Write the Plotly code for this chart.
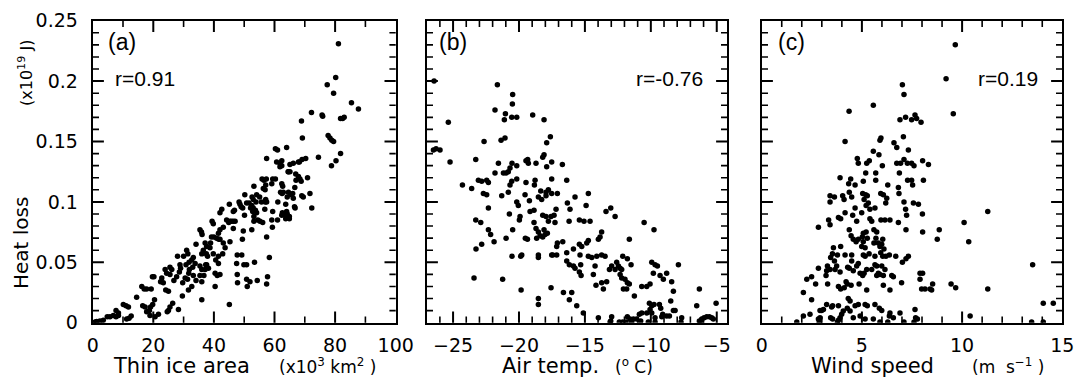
import numpy as np
import plotly.graph_objects as go

# ---------------- Panel (a): heat loss vs thin ice area ----------------
ice_area = [
    81.1, 80.2, 77.4, 79.5, 85.4, 87.7, 72.2, 75.7, 75.9, 81.8,
    82.5, 83.0, 68.9, 69.2, 77.7, 78.3, 78.9, 79.5, 81.8, 80.3,
    78.8, 74.5, 70.3, 64.0, 60.3, 61.0, 57.4, 62.4, 61.8, 65.1,
    66.2, 62.4, 68.2, 69.1, 64.5, 65.1, 67.0, 70.9, 67.1, 68.4,
    68.8, 59.4, 60.3, 55.9, 56.5, 57.3, 53.2, 57.1, 56.3, 62.7,
    66.7, 62.0, 62.5, 62.9, 66.0, 65.5, 71.7, 69.0, 69.5, 50.2,
    52.6, 54.1, 53.0, 53.9, 57.1, 57.4, 52.5, 53.0, 63.7, 66.8,
    72.3, 53.7, 54.1, 56.8, 48.3, 48.6, 50.8, 45.1, 46.8, 49.5,
    59.4, 62.6, 63.5, 64.1, 64.9, 63.7, 61.0, 59.1, 59.3, 54.5,
    56.1, 52.5, 49.7, 57.4, 49.4, 58.3, 47.7, 53.4, 49.9, 50.8,
    47.5, 51.9, 50.8, 51.0, 54.3, 47.7, 47.8, 57.7, 57.4, 45.1,
    42.0, 42.6, 44.2, 44.9, 43.1, 42.0, 45.8, 39.4, 39.8, 41.5,
    39.2, 40.0, 40.9, 41.6, 42.0, 43.1, 43.7, 42.9, 41.5, 39.8,
    38.7, 38.9, 35.4, 35.9, 36.1, 37.1, 37.6, 36.5, 36.0, 34.1,
    37.9, 37.5, 40.6, 41.5, 37.3, 35.4, 36.0, 37.1, 36.7, 42.0,
    40.4, 33.2, 33.8, 33.0, 30.0, 28.0, 25.5, 26.1, 28.8, 29.0,
    28.6, 31.9, 31.7, 31.3, 33.2, 34.1, 35.4, 36.0, 30.5, 29.7,
    27.7, 26.8, 25.5, 23.9, 24.4, 22.8, 23.3, 22.4, 20.2, 19.7,
    19.3, 16.2, 17.0, 17.8, 20.4, 29.6, 31.6, 32.7, 24.1, 25.0,
    19.8, 19.1, 18.7, 17.8, 17.3, 16.5, 14.5, 21.7, 20.6, 18.9,
    26.4, 25.5, 25.0, 24.6, 28.3, 36.0, 10.1, 11.0, 11.8, 7.7,
    8.5, 12.7, 12.0, 11.2, 5.7, 6.8, 7.7, 8.5, 4.8, 3.5,
    2.4, 1.3, 0.8, 0.2, 55.1, 55.7, 56.9, 56.9, 49.0, 51.6,
    52.1, 52.8, 53.2, 46.4, 50.1, 45.3, 46.4, 47.0, 46.4, 45.3,
    55.2, 62.4, 64.2, 64.9, 64.6, 64.2, 66.2, 66.6, 62.4, 64.6,
    67.9, 60.7, 61.8, 67.9, 61.1, 64.0, 64.6, 59.1, 31.0, 31.4,
    30.8, 31.8, 32.7, 37.6, 38.2, 40.4, 41.1, 49.2, 53.2,
]
heat_loss_a = [
    0.231, 0.203, 0.197, 0.190, 0.182, 0.177, 0.174, 0.172, 0.171, 0.169,
    0.169, 0.170, 0.167, 0.153, 0.155, 0.153, 0.151, 0.150, 0.140, 0.134,
    0.130, 0.137, 0.136, 0.145, 0.144, 0.143, 0.136, 0.134, 0.132, 0.131,
    0.132, 0.130, 0.133, 0.135, 0.125, 0.125, 0.123, 0.120, 0.118, 0.119,
    0.117, 0.119, 0.119, 0.119, 0.118, 0.119, 0.113, 0.114, 0.111, 0.113,
    0.112, 0.108, 0.107, 0.108, 0.107, 0.106, 0.107, 0.105, 0.104, 0.106,
    0.104, 0.106, 0.102, 0.100, 0.102, 0.100, 0.097, 0.095, 0.098, 0.095,
    0.095, 0.093, 0.091, 0.094, 0.100, 0.098, 0.099, 0.098, 0.093, 0.095,
    0.092, 0.091, 0.089, 0.088, 0.088, 0.086, 0.085, 0.085, 0.079, 0.085,
    0.083, 0.077, 0.076, 0.071, 0.069, 0.054, 0.056, 0.050, 0.048, 0.048,
    0.049, 0.034, 0.036, 0.030, 0.035, 0.040, 0.033, 0.038, 0.032, 0.015,
    0.091, 0.094, 0.085, 0.083, 0.079, 0.077, 0.084, 0.084, 0.082, 0.074,
    0.071, 0.071, 0.070, 0.069, 0.069, 0.066, 0.062, 0.057, 0.055, 0.057,
    0.062, 0.066, 0.077, 0.075, 0.073, 0.066, 0.063, 0.060, 0.057, 0.065,
    0.055, 0.057, 0.052, 0.049, 0.048, 0.047, 0.044, 0.044, 0.039, 0.040,
    0.030, 0.054, 0.049, 0.046, 0.055, 0.055, 0.046, 0.044, 0.048, 0.045,
    0.042, 0.044, 0.041, 0.036, 0.039, 0.035, 0.039, 0.034, 0.037, 0.033,
    0.038, 0.035, 0.040, 0.044, 0.041, 0.037, 0.033, 0.034, 0.038, 0.038,
    0.028, 0.030, 0.028, 0.028, 0.019, 0.022, 0.027, 0.030, 0.027, 0.026,
    0.015, 0.013, 0.010, 0.009, 0.013, 0.014, 0.021, 0.007, 0.005, 0.006,
    0.016, 0.013, 0.010, 0.009, 0.011, 0.019, 0.015, 0.014, 0.013, 0.010,
    0.008, 0.0055, 0.0036, 0.003, 0.005, 0.006, 0.005, 0.006, 0.005, 0.002,
    0.0015, 0.001, 0.0005, 0.0, 0.104, 0.100, 0.110, 0.100, 0.096, 0.099,
    0.095, 0.092, 0.088, 0.092, 0.089, 0.084, 0.084, 0.084, 0.078, 0.067,
    0.084, 0.089, 0.090, 0.086, 0.108, 0.104, 0.103, 0.096, 0.115, 0.125,
    0.121, 0.133, 0.129, 0.133, 0.100, 0.092, 0.088, 0.115, 0.060, 0.057,
    0.048, 0.050, 0.052, 0.048, 0.045, 0.041, 0.039, 0.056, 0.084,
]

# ---------------- Panel (b): heat loss vs air temperature ----------------
air_temp = [
    -26.44, -26.49, -26.29, -25.99, -25.36, -25.23, -21.64, -20.48, -20.50, -21.82,
    -21.03, -20.55, -20.17, -21.11, -18.96, -18.10, -22.65, -21.36, -21.06, -17.62,
    -17.90, -23.28, -21.56, -20.53, -20.17, -20.68, -20.81, -19.47, -19.34, -19.29,
    -18.71, -18.20, -18.10, -17.90, -17.52, -16.71, -21.82, -21.18, -20.98, -24.29,
    -23.59, -23.08, -22.83, -22.45, -22.32, -22.70, -22.45, -22.32, -21.31, -20.81,
    -20.68, -20.55, -20.17, -19.47, -19.54, -19.21, -18.78, -18.83, -18.35, -18.53,
    -18.28, -17.95, -17.95, -17.77, -17.52, -17.52, -17.09, -16.38, -20.17, -20.05,
    -18.86, -19.16, -19.92, -19.97, -20.73, -23.28, -22.90, -22.32, -22.15, -20.48,
    -18.86, -18.71, -18.53, -18.40, -18.20, -17.95, -17.77, -17.57, -17.34, -18.10,
    -18.02, -17.85, -17.27, -17.19, -16.33, -16.13, -15.75, -16.20, -15.42, -15.07,
    -14.61, -14.91, -14.74, -13.40, -13.04, -12.71, -10.51, -9.76, -11.63, -13.73,
    -13.85, -13.98, -14.74, -14.86, -15.42, -15.24, -15.87, -16.38, -16.68, -17.09,
    -17.14, -17.52, -17.14, -18.66, -18.20, -19.52, -19.36, -20.98, -22.83, -23.26,
    -21.89, -20.53, -19.87, -19.79, -18.53, -18.53, -17.44, -16.38, -16.18, -15.87,
    -15.75, -15.37, -15.32, -15.42, -15.29, -14.74, -14.48, -14.10, -13.73, -13.47,
    -14.23, -14.36, -14.16, -13.73, -13.60, -13.35, -13.14, -12.97, -12.71, -12.59,
    -12.46, -12.33, -12.21, -12.13, -11.78, -12.33, -12.21, -11.96, -11.78, -11.63,
    -12.08, -11.83, -11.25, -11.50, -10.69, -10.31, -10.06, -9.81, -9.93, -9.68,
    -9.50, -9.30, -9.05, -8.80, -7.91, -8.42, -8.29, -8.49, -8.29, -8.16,
    -10.11, -9.93, -9.76, -10.06, -9.93, -10.31, -10.69, -10.87, -11.07, -11.32,
    -11.58, -11.78, -11.45, -11.88, -12.13, -9.35, -9.25, -9.10, -9.17, -8.80,
    -8.59, -9.68, -9.68, -10.19, -10.77, -12.39, -13.04, -12.97, -13.09, -13.98,
    -15.12, -15.62, -16.18, -16.63, -16.00, -17.57, -18.53, -18.53, -19.84, -21.24,
    -23.41, -6.32, -6.52, -5.05, -7.66, -7.71, -6.32, -6.14, -5.96, -5.76,
    -5.56, -5.38, -5.26, -6.22,
]
heat_loss_b = [
    0.200, 0.143, 0.144, 0.143, 0.166, 0.133, 0.197, 0.189, 0.181, 0.176,
    0.173, 0.170, 0.170, 0.168, 0.172, 0.168, 0.150, 0.151, 0.153, 0.154,
    0.149, 0.135, 0.132, 0.132, 0.130, 0.128, 0.125, 0.134, 0.135, 0.132,
    0.132, 0.137, 0.139, 0.129, 0.133, 0.131, 0.124, 0.124, 0.124, 0.114,
    0.111, 0.118, 0.117, 0.118, 0.116, 0.107, 0.106, 0.095, 0.105, 0.108,
    0.114, 0.117, 0.119, 0.116, 0.106, 0.101, 0.118, 0.114, 0.109, 0.104,
    0.102, 0.105, 0.108, 0.110, 0.119, 0.107, 0.107, 0.118, 0.100, 0.097,
    0.093, 0.092, 0.088, 0.085, 0.090, 0.085, 0.083, 0.077, 0.073, 0.077,
    0.083, 0.078, 0.075, 0.072, 0.089, 0.088, 0.084, 0.088, 0.089, 0.077,
    0.073, 0.074, 0.083, 0.094, 0.099, 0.094, 0.104, 0.084, 0.085, 0.084,
    0.084, 0.097, 0.107, 0.092, 0.095, 0.088, 0.083, 0.077, 0.069, 0.075,
    0.071, 0.069, 0.068, 0.066, 0.065, 0.063, 0.061, 0.058, 0.067, 0.066,
    0.063, 0.056, 0.056, 0.070, 0.071, 0.070, 0.069, 0.070, 0.065, 0.061,
    0.067, 0.055, 0.055, 0.056, 0.056, 0.054, 0.056, 0.051, 0.048, 0.047,
    0.045, 0.056, 0.048, 0.042, 0.039, 0.055, 0.054, 0.055, 0.056, 0.055,
    0.047, 0.040, 0.031, 0.033, 0.028, 0.034, 0.044, 0.047, 0.044, 0.050,
    0.047, 0.045, 0.044, 0.055, 0.053, 0.040, 0.037, 0.036, 0.033, 0.032,
    0.028, 0.028, 0.022, 0.048, 0.030, 0.030, 0.032, 0.041, 0.050, 0.048,
    0.047, 0.039, 0.036, 0.041, 0.048, 0.034, 0.026, 0.018, 0.010, 0.010,
    0.016, 0.014, 0.015, 0.011, 0.008, 0.008, 0.008, 0.007, 0.003, 0.003,
    0.003, 0.005, 0.0006, 0.0006, 0.0006, 0.015, 0.012, 0.007, 0.005, 0.0055,
    0.0055, 0.004, 0.0006, 0.0006, 0.0014, 0.0006, 0.0014, 0.005, 0.0006, 0.004,
    0.008, 0.014, 0.019, 0.025, 0.025, 0.029, 0.020, 0.015, 0.027, 0.036,
    0.037, 0.028, 0.014, 0.016, 0.004, 0.0006, 0.0014, 0.003, 0.004, 0.005,
    0.005, 0.004, 0.003, 0.0006,
]

# ---------------- Panel (c): heat loss vs wind speed ----------------
wind_speed = [
    9.66, 9.20, 7.02, 7.10, 5.57, 4.36, 9.56, 6.90, 7.18, 7.48,
    7.65, 7.73, 7.95, 7.07, 5.90, 5.95, 4.16, 6.60, 6.74, 7.32,
    5.57, 5.85, 4.77, 4.82, 5.37, 5.24, 6.02, 6.74, 6.93, 7.10,
    7.27, 7.48, 7.60, 8.03, 8.32, 5.19, 5.69, 6.87, 5.69, 5.07,
    3.91, 4.44, 4.34, 4.66, 7.28, 7.48, 7.53, 8.07, 6.29, 6.82,
    6.85, 3.41, 3.63, 3.41, 4.04, 4.11, 4.37, 4.49, 5.04, 5.19,
    5.27, 5.94, 6.07, 6.24, 6.19, 5.11, 5.21, 5.32, 5.40, 5.65,
    4.16, 4.66, 4.54, 4.99, 4.74, 5.40, 5.49, 5.95, 6.15, 6.40,
    6.82, 7.23, 7.10, 7.18, 7.57, 7.82, 8.02, 8.03, 7.20, 3.34,
    3.41, 3.83, 3.94, 2.83, 4.37, 4.46, 4.57, 4.71, 4.82, 5.07,
    5.02, 5.21, 5.27, 5.07, 4.99, 5.16, 5.60, 5.74, 5.70, 5.60,
    5.82, 5.90, 5.99, 6.04, 6.10, 8.86, 8.76, 10.10, 10.33, 11.28,
    3.58, 3.53, 3.78, 3.94, 3.44, 3.63, 3.74, 4.16, 4.49, 4.49,
    4.82, 4.74, 5.07, 5.16, 5.36, 5.65, 5.94, 6.04, 6.20, 6.37,
    5.65, 5.74, 5.99, 6.69, 7.02, 7.20, 7.32, 4.29, 4.37, 3.28,
    3.24, 3.41, 3.21, 2.83, 3.66, 3.91, 4.57, 4.91, 5.04, 5.11,
    5.24, 5.49, 5.74, 5.90, 5.82, 6.15, 6.07, 6.49, 6.57, 7.90,
    8.03, 7.90, 7.98, 6.98, 6.07, 2.08, 2.25, 2.49, 2.69, 3.29,
    3.83, 3.94, 4.12, 4.21, 4.27, 4.46, 4.86, 5.24, 6.40, 8.15,
    8.40, 8.53, 8.48, 9.45, 9.68, 11.28, 13.52, 14.05, 14.55, 13.47,
    14.05, 10.40, 2.49, 2.91, 2.99, 3.08, 3.24, 3.49, 3.54, 3.83,
    4.07, 3.99, 3.91, 4.32, 4.41, 4.27, 4.41, 4.66, 4.82, 5.16,
    5.27, 5.65, 5.87, 5.99, 6.40, 6.37, 6.57, 6.90, 7.65, 7.68,
    7.77, 1.75, 2.08, 2.41, 2.83, 2.87, 2.91, 3.44, 3.54, 3.78,
    3.83, 4.57, 4.91, 5.16, 5.57, 5.90, 6.29, 7.10, 7.60,
]
heat_loss_c = [
    0.230, 0.202, 0.197, 0.189, 0.180, 0.175, 0.173, 0.168, 0.170, 0.168,
    0.172, 0.169, 0.166, 0.154, 0.151, 0.153, 0.150, 0.149, 0.145, 0.143,
    0.142, 0.139, 0.136, 0.132, 0.134, 0.132, 0.130, 0.132, 0.132, 0.135,
    0.132, 0.132, 0.130, 0.134, 0.131, 0.124, 0.124, 0.124, 0.118, 0.117,
    0.120, 0.119, 0.115, 0.114, 0.118, 0.118, 0.114, 0.118, 0.114, 0.112,
    0.107, 0.105, 0.104, 0.100, 0.105, 0.102, 0.108, 0.104, 0.107, 0.106,
    0.105, 0.107, 0.106, 0.103, 0.099, 0.102, 0.097, 0.099, 0.094, 0.095,
    0.091, 0.095, 0.089, 0.091, 0.084, 0.086, 0.084, 0.085, 0.085, 0.085,
    0.083, 0.089, 0.100, 0.094, 0.099, 0.098, 0.090, 0.075, 0.077, 0.085,
    0.081, 0.087, 0.086, 0.079, 0.077, 0.072, 0.069, 0.067, 0.069, 0.074,
    0.071, 0.075, 0.070, 0.067, 0.063, 0.062, 0.077, 0.075, 0.070, 0.066,
    0.066, 0.063, 0.065, 0.069, 0.061, 0.077, 0.069, 0.083, 0.067, 0.092,
    0.062, 0.057, 0.056, 0.063, 0.054, 0.051, 0.047, 0.056, 0.056, 0.051,
    0.049, 0.047, 0.056, 0.055, 0.057, 0.055, 0.058, 0.055, 0.055, 0.056,
    0.048, 0.047, 0.047, 0.055, 0.050, 0.053, 0.055, 0.046, 0.045, 0.047,
    0.043, 0.044, 0.039, 0.045, 0.044, 0.042, 0.043, 0.041, 0.039, 0.041,
    0.044, 0.044, 0.039, 0.040, 0.041, 0.044, 0.039, 0.039, 0.038, 0.041,
    0.041, 0.036, 0.028, 0.033, 0.031, 0.025, 0.036, 0.038, 0.032, 0.032,
    0.030, 0.028, 0.029, 0.034, 0.032, 0.031, 0.032, 0.027, 0.027, 0.028,
    0.028, 0.032, 0.027, 0.032, 0.029, 0.028, 0.048, 0.016, 0.016, 0.0005,
    0.0005, 0.0055, 0.019, 0.010, 0.010, 0.011, 0.015, 0.013, 0.014, 0.014,
    0.0096, 0.007, 0.004, 0.020, 0.018, 0.012, 0.0096, 0.014, 0.015, 0.015,
    0.014, 0.015, 0.012, 0.010, 0.008, 0.0055, 0.004, 0.008, 0.011, 0.004,
    0.003, 0.0006, 0.0055, 0.007, 0.003, 0.0006, 0.004, 0.004, 0.003, 0.0006,
    0.002, 0.004, 0.0055, 0.003, 0.003, 0.0006, 0.0006, 0.0006, 0.0006,
]

panel_labels = ["(a)", "(b)", "(c)"]
r_labels = ["r=0.91", "r=-0.76", "r=0.19"]

FONT = "DejaVu Sans"
TEXT_FONT = "Liberation Sans"

W, H = 1083, 387
def px_x(p):
    return p / W
def px_y(p):
    return 1 - p / H

y_px = (20.7, 322.7)
x_px = [(92.7, 395.7), (426.7, 727.3), (761.7, 1062.3)]
y_dom = [px_y(y_px[1]), px_y(y_px[0])]
x_doms = [[px_x(a), px_x(b)] for a, b in x_px]

x_ranges = [[0, 100], [-27, -4.2], [0, 15]]
x_major = [20, 5, 5]
x_minor = [10, 1, 1]
x_tick0 = [0, -25, 0]
y_range = [0, 0.25]
y_major, y_minor = 0.05, 0.01

marker = dict(size=5.5, color="black", line=dict(width=0))
xs = [ice_area, air_temp, wind_speed]
ys = [heat_loss_a, heat_loss_b, heat_loss_c]

fig = go.Figure()

# inward ticks on all four sides: line-shaped markers sitting on the frame,
# clipped by the plot area so that only the inner half shows
MAJOR_LEN, MINOR_LEN = 8, 4.5

def tick_values(lo, hi, step, start):
    n0 = int(np.ceil((lo - start) / step - 1e-9))
    n1 = int(np.floor((hi - start) / step + 1e-9))
    return [round(start + k * step, 6) for k in range(n0, n1 + 1)]

for i in range(3):
    xa = "x" if i == 0 else f"x{i+1}"
    ya = "y" if i == 0 else f"y{i+1}"
    lo, hi = x_ranges[i]
    ylo, yhi = y_range
    xmaj = [v for v in tick_values(lo, hi, x_major[i], x_tick0[i]) if lo < v < hi]
    xmin = [v for v in tick_values(lo, hi, x_minor[i], x_tick0[i])
            if lo < v < hi and all(abs(v - m) > 1e-6 for m in xmaj)]
    ymaj = [v for v in tick_values(ylo, yhi, y_major, 0) if ylo < v < yhi]
    ymin = [v for v in tick_values(ylo, yhi, y_minor, 0)
            if ylo < v < yhi and all(abs(v - m) > 1e-6 for m in ymaj)]
    for (xv, yv, L, wdt) in ((xmaj, ymaj, MAJOR_LEN, 2.0), (xmin, ymin, MINOR_LEN, 1.6)):
        fig.add_trace(go.Scatter(
            x=xv + xv, y=[ylo] * len(xv) + [yhi] * len(xv), mode="markers",
            marker=dict(symbol="line-ns", size=2 * L, color="black",
                        line=dict(color="black", width=wdt)),
            xaxis=xa, yaxis=ya, showlegend=False, hoverinfo="skip", cliponaxis=True))
        fig.add_trace(go.Scatter(
            x=[lo] * len(yv) + [hi] * len(yv), y=yv + yv, mode="markers",
            marker=dict(symbol="line-ew", size=2 * L, color="black",
                        line=dict(color="black", width=wdt)),
            xaxis=xa, yaxis=ya, showlegend=False, hoverinfo="skip", cliponaxis=True))
    fig.add_trace(go.Scatter(x=xs[i], y=ys[i], mode="markers", marker=marker,
                             xaxis=xa, yaxis=ya, showlegend=False))

def axis(**kw):
    base = dict(showline=True, linecolor="black", linewidth=2, mirror=True,
                ticks="", showgrid=False, zeroline=False, automargin=False,
                tickfont=dict(family=FONT, size=19, color="black"))
    base.update(kw)
    return base

fig.update_layout(
    template="none",
    width=W, height=H,
    margin=dict(l=0, r=0, t=0, b=0, pad=0),
    paper_bgcolor="white", plot_bgcolor="white",
    showlegend=False,
    xaxis=axis(domain=x_doms[0], anchor="y", range=x_ranges[0], tick0=x_tick0[0], dtick=x_major[0],
               ticklabelstandoff=4),
    yaxis=axis(domain=y_dom, anchor="x", range=y_range, tick0=0, dtick=y_major,
               ticklabelstandoff=9),
    xaxis2=axis(domain=x_doms[1], anchor="y2", range=x_ranges[1], tick0=x_tick0[1], dtick=x_major[1],
                ticklabelstandoff=4),
    yaxis2=axis(domain=y_dom, anchor="x2", range=y_range, tick0=0, dtick=y_major, showticklabels=False),
    xaxis3=axis(domain=x_doms[2], anchor="y3", range=x_ranges[2], tick0=x_tick0[2], dtick=x_major[2],
                ticklabelstandoff=4),
    yaxis3=axis(domain=y_dom, anchor="x3", range=y_range, tick0=0, dtick=y_major, showticklabels=False),
)

ann = []
letter_x = [0.044, 0.034, 0.048]
for i, (lab, rl) in enumerate(zip(panel_labels, r_labels)):
    xr = "x domain" if i == 0 else f"x{i+1} domain"
    yr = "y domain" if i == 0 else f"y{i+1} domain"
    ann.append(dict(text=lab, xref=xr, yref=yr, x=letter_x[i], y=0.93, xanchor="left", yanchor="middle",
                    showarrow=False, font=dict(family=TEXT_FONT, size=23, color="black")))
    if i == 0:
        ann.append(dict(text=rl, xref=xr, yref=yr, x=0.067, y=0.81, xanchor="left", yanchor="middle",
                        showarrow=False, font=dict(family=TEXT_FONT, size=21, color="black")))
    else:
        ann.append(dict(text=rl, xref=xr, yref=yr, x=0.926, y=0.81, xanchor="right", yanchor="middle",
                        showarrow=False, font=dict(family=TEXT_FONT, size=21, color="black")))

ann.append(dict(text="Heat loss", xref="paper", yref="paper", x=px_x(21), y=px_y(243),
                textangle=-90, showarrow=False, xanchor="center", yanchor="middle",
                font=dict(family=FONT, size=20, color="black")))
ann.append(dict(text="(x10<sup>19</sup> J)", xref="paper", yref="paper", x=px_x(26), y=px_y(73),
                textangle=-90, showarrow=False, xanchor="center", yanchor="middle",
                font=dict(family=FONT, size=16, color="black")))
title_y = px_y(366)
ann.append(dict(text="Thin ice area", xref="paper", yref="paper", x=px_x(181.5), y=title_y,
                showarrow=False, xanchor="center", yanchor="middle",
                font=dict(family=FONT, size=21, color="black")))
ann.append(dict(text="(x10<sup>3</sup> km<sup>2</sup> )", xref="paper", yref="paper", x=px_x(327), y=title_y,
                showarrow=False, xanchor="center", yanchor="middle",
                font=dict(family=FONT, size=17, color="black")))
ann.append(dict(text="Air temp.", xref="paper", yref="paper", x=px_x(550), y=title_y,
                showarrow=False, xanchor="center", yanchor="middle",
                font=dict(family=FONT, size=21, color="black")))
ann.append(dict(text="(<sup>o</sup> C)", xref="paper", yref="paper", x=px_x(634), y=title_y,
                showarrow=False, xanchor="center", yanchor="middle",
                font=dict(family=FONT, size=17, color="black")))
ann.append(dict(text="Wind speed", xref="paper", yref="paper", x=px_x(872.5), y=title_y,
                showarrow=False, xanchor="center", yanchor="middle",
                font=dict(family=FONT, size=21, color="black")))
ann.append(dict(text="(m  s<sup>−1</sup> )", xref="paper", yref="paper", x=px_x(1008), y=title_y,
                showarrow=False, xanchor="center", yanchor="middle",
                font=dict(family=FONT, size=17, color="black")))

fig.update_layout(annotations=ann)
fig.write_html("out.html",
               config={"displayModeBar": False},
               post_script="document.body.style.margin='0';document.body.style.padding='0';")
